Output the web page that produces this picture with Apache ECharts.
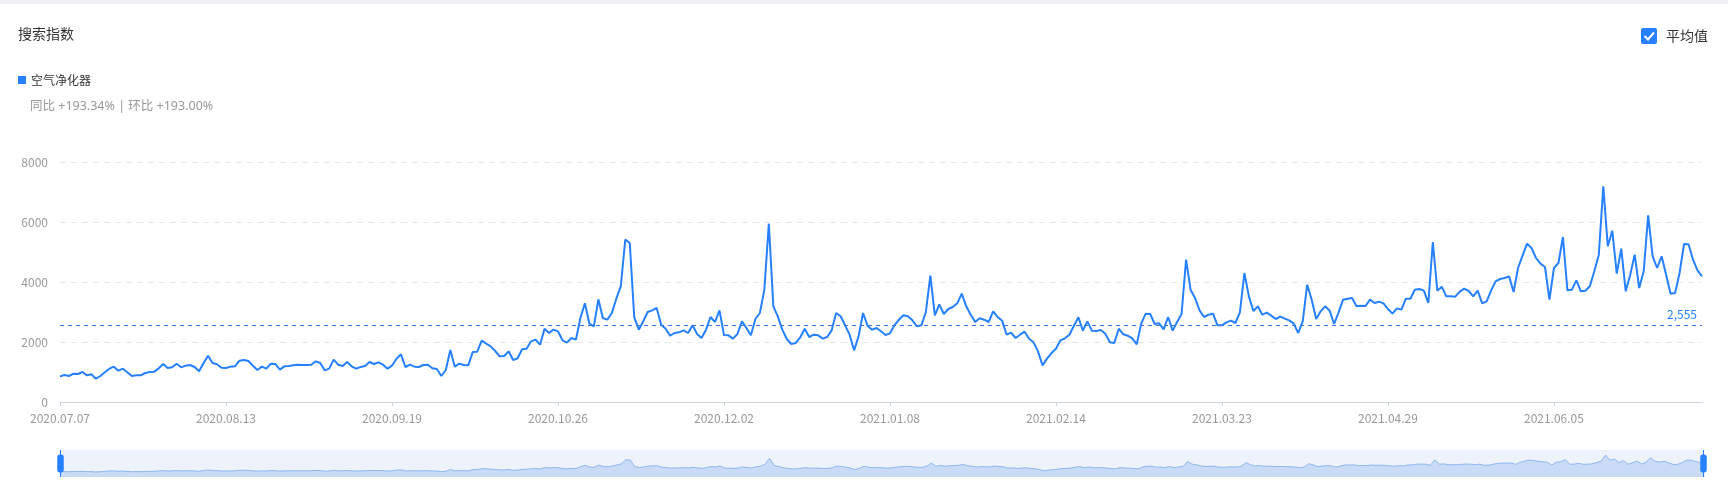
<!DOCTYPE html>
<html>
<head>
<meta charset="utf-8">
<script src="https://cdn.jsdelivr.net/npm/echarts@6/dist/echarts.min.js"></script>
<style>
html,body{margin:0;padding:0;background:#fff;}
#chart{width:1728px;height:489px;}
</style>
</head>
<body>
<div id="chart"></div>
<script>
// ---- data ----
const startDate = '2020-07-07';
const dayCount = 367;
const seriesName = '空气净化器';
const values = [
  855, 900, 867, 944, 933, 1000, 889, 922, 778, 867,
  989, 1111, 1178, 1044, 1111, 989, 867, 889, 889, 967,
  1000, 1011, 1122, 1267, 1133, 1156, 1278, 1156, 1211, 1233,
  1167, 1022, 1300, 1544, 1300, 1256, 1144, 1133, 1178, 1189,
  1378, 1400, 1367, 1211, 1067, 1178, 1111, 1278, 1267, 1078,
  1189, 1200, 1222, 1244,
  1233, 1233, 1244, 1356, 1300, 1056, 1111, 1411, 1244, 1200,
  1333, 1189, 1111, 1167, 1200, 1333, 1267, 1322, 1244, 1111,
  1211, 1444, 1589, 1167, 1244, 1178, 1167, 1233, 1244, 1122,
  1100, 867, 1067, 1733, 1178, 1278, 1233, 1222, 1667, 1678,
  2044, 1944, 1856, 1700, 1522, 1533, 1689, 1400, 1456, 1756,
  1778, 2022, 2078, 1911, 2444, 2300,
  2411, 2356, 2056, 1978, 2133, 2078, 2800, 3289, 2611, 2522,
  3422, 2800, 2744, 2967, 3444, 3856, 5411, 5300, 2822, 2411,
  2689, 3000, 3056, 3133, 2578, 2444, 2211, 2300, 2322, 2389,
  2300, 2556, 2267, 2133, 2411, 2833, 2667, 3056, 2233, 2222,
  2111, 2267, 2689, 2467, 2222, 2767, 2967, 3744, 5944, 3189,
  2856, 2411, 2100, 1933, 1967, 2156,
  2444, 2167, 2244, 2222, 2111, 2167, 2389, 2967, 2856, 2556,
  2244, 1722, 2189, 2967, 2544, 2411, 2467, 2356, 2233, 2289,
  2556, 2744, 2889, 2856, 2722, 2522, 2556, 3000, 4211, 2889,
  3256, 2933, 3100, 3167, 3289, 3611, 3189, 2911, 2667, 2789,
  2744, 2667, 3022, 2833, 2711, 2244, 2311, 2133, 2244, 2344,
  2111, 1989, 1689, 1222, 1444, 1633,
  1778, 2056, 2122, 2244, 2544, 2822, 2378, 2689, 2378, 2367,
  2400, 2278, 1989, 1967, 2444, 2256, 2211, 2122, 1922, 2611,
  2944, 2933, 2600, 2622, 2422, 2833, 2378, 2667, 2933, 4744,
  3744, 3467, 3056, 2833, 2911, 2944, 2556, 2556, 2656, 2711,
  2633, 2989, 4300, 3522, 3033, 3189, 2911, 2978, 2878, 2767,
  2844, 2778, 2722, 2611, 2300, 2689,
  3911, 3411, 2767, 3022, 3189, 3044, 2600, 2989, 3411, 3444,
  3467, 3189, 3211, 3200, 3411, 3300, 3344, 3289, 3100, 2944,
  3122, 3078, 3444, 3444, 3744, 3767, 3711, 3300, 5333, 3711,
  3844, 3522, 3522, 3511, 3678, 3778, 3700, 3522, 3711, 3289,
  3356, 3722, 4022, 4100, 4133, 4189, 3667, 4467, 4878, 5278,
  5133, 4800, 4611, 4500, 3411,
  4467, 4633, 5500, 3722, 3744, 4056, 3689, 3711, 3856, 4356,
  4911, 7189, 5189, 5711, 4278, 5111, 3689, 4244, 4911, 3800,
  4356, 6222, 4856, 4467, 4856, 4244, 3611, 3633, 4300, 5267,
  5256, 4744, 4389, 4189
];
const averageValue = 2555;
const yTicks = [0, 2000, 4000, 6000, 8000];
const titleText = '搜索指数';
const compareText = '同比 +193.34% | 环比 +193.00%';
const toggleText = '平均值';

// categories (daily dates)
const dates = [];
(function () {
  const d0 = new Date(startDate + 'T00:00:00Z');
  for (let i = 0; i < dayCount; i++) {
    const d = new Date(d0.getTime() + i * 86400000);
    const mm = String(d.getUTCMonth() + 1).padStart(2, '0');
    const dd = String(d.getUTCDate()).padStart(2, '0');
    dates.push(d.getUTCFullYear() + '.' + mm + '.' + dd);
  }
})();

const FONT = "'Noto Sans CJK SC', 'Noto Sans', sans-serif";
const FONT_WIDE = "'Noto Sans', 'Noto Sans CJK SC', sans-serif";
const BLUE = '#2680ff';

const chart = echarts.init(document.getElementById('chart'), null, { renderer: 'canvas' });
chart.setOption({
  animation: false,
  textStyle: { fontFamily: FONT },
  title: {
    text: titleText, left: 18, top: 27, padding: 0,
    textStyle: { fontSize: 14, fontWeight: 'normal', color: '#333', fontFamily: FONT }
  },
  legend: {
    data: [seriesName], left: 18, top: 74, padding: 0,
    icon: 'rect', itemWidth: 8, itemHeight: 8, itemGap: 10,
    textStyle: { fontSize: 12, color: '#333', fontFamily: FONT }
  },
  graphic: [
    { type: 'rect', left: 0, top: 0, shape: { width: 1728, height: 4 }, style: { fill: '#f0f1f5' }, silent: true },
    { type: 'text', x: 30, y: 106, style: { text: compareText, fill: '#999', font: '12.5px ' + FONT_WIDE, verticalAlign: 'middle', textVerticalAlign: 'middle' }, silent: true },
    { type: 'rect', shape: { x: 1641, y: 28, width: 16, height: 16, r: 2 }, style: { fill: BLUE }, silent: true },
    { type: 'polyline', shape: { points: [[1644.5, 36], [1648, 39.5], [1654, 32.5]] }, style: { stroke: '#fff', lineWidth: 2, fill: null }, silent: true },
    { type: 'text', x: 1666, y: 36, style: { text: toggleText, fill: '#333', font: '14px ' + FONT, verticalAlign: 'middle', textVerticalAlign: 'middle' }, silent: true }
  ],
  grid: { left: 60, right: 26, top: 162, bottom: 87, containLabel: false },
  xAxis: {
    type: 'category',
    data: dates,
    boundaryGap: false,
    axisLine: { lineStyle: { color: '#ccd3e0' } },
    axisTick: { show: true, interval: 36, length: 4, lineStyle: { color: '#ccd3e0' } },
    axisLabel: { interval: 36, color: '#999', fontSize: 12, margin: 10, fontFamily: FONT },
    splitLine: { show: false }
  },
  yAxis: {
    type: 'value',
    min: yTicks[0], max: yTicks[yTicks.length - 1], interval: 2000,
    axisLine: { show: false },
    axisTick: { show: false },
    axisLabel: { color: '#999', fontSize: 12, margin: 12, fontFamily: FONT, formatter: function (v) { return String(v); } },
    splitLine: { show: true, lineStyle: { color: '#e3e8ee', type: [6, 5] } }
  },
  dataZoom: [{
    type: 'slider',
    xAxisIndex: 0,
    start: 0, end: 100,
    left: 57, right: 26, top: 450, height: 27,
    backgroundColor: '#eef2fa',
    borderColor: 'transparent',
    fillerColor: 'rgba(0,0,0,0)',
    showDetail: false,
    brushSelect: false,
    moveHandleSize: 0,
    handleIcon: 'path://M-9.35,34.56V42m0-40V9.5m-2,0h4a2,2,0,0,1,2,2v21a2,2,0,0,1-2,2h-4a2,2,0,0,1-2-2v-21A2,2,0,0,1-11.35,9.5Z',
    handleSize: '100%',
    handleStyle: { color: BLUE, borderColor: BLUE, borderWidth: 1 },
    dataBackground: { lineStyle: { color: '#8fb6f0', width: 1, opacity: 1 }, areaStyle: { color: '#c9dbf7', opacity: 1 } },
    selectedDataBackground: { lineStyle: { color: '#8fb6f0', width: 1, opacity: 1 }, areaStyle: { color: '#c9dbf7', opacity: 1 } }
  }],
  series: [{
    name: seriesName,
    type: 'line',
    data: values,
    showSymbol: false,
    symbol: 'none',
    smooth: false,
    lineStyle: { color: BLUE, width: 2 },
    itemStyle: { color: BLUE },
    markLine: {
      silent: true,
      symbol: ['none', 'none'],
      lineStyle: { color: '#3a78e0', type: [4, 4], width: 1 },
      label: {
        show: true, position: 'insideEndTop', color: BLUE, fontSize: 12, fontFamily: FONT,
        formatter: function (p) { return Number(p.value).toLocaleString('en-US'); }
      },
      data: [{ yAxis: averageValue }]
    }
  }]
});
</script>
</body>
</html>
